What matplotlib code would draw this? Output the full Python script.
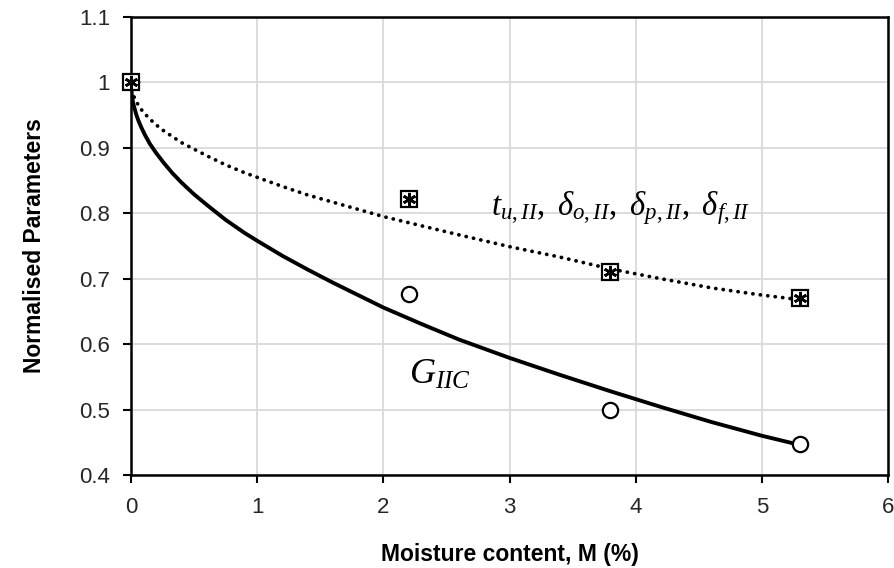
import matplotlib
matplotlib.use("Agg")
import matplotlib.pyplot as plt

# measured data points
moisture = [0, 2.2, 3.8, 5.3]
g_iic = [1.0, 0.677, 0.499, 0.447]
cohesive = [1.0, 0.822, 0.710, 0.671]

# trend lines
trend_x = [0, 0.005, 0.01, 0.02, 0.04, 0.06, 0.08, 0.11, 0.15, 0.2, 0.26, 0.33, 0.4,
           0.5, 0.6, 0.75, 0.9, 1.0, 1.2, 1.4, 1.6, 1.8, 2.0, 2.3, 2.6, 3.0, 3.4,
           3.8, 4.2, 4.6, 5.0, 5.3]
trend_g = [1.0, 0.983, 0.976, 0.966, 0.952, 0.941, 0.932, 0.920, 0.906, 0.892, 0.877,
           0.861, 0.847, 0.829, 0.813, 0.790, 0.770, 0.758, 0.735, 0.714, 0.694, 0.675,
           0.656, 0.631, 0.607, 0.579, 0.553, 0.528, 0.504, 0.481, 0.460, 0.446]
trend_c = [1.0, 0.990, 0.986, 0.980, 0.971, 0.965, 0.959, 0.952, 0.944, 0.935, 0.926,
           0.917, 0.908, 0.898, 0.888, 0.874, 0.862, 0.855, 0.841, 0.828, 0.817, 0.806,
           0.795, 0.781, 0.767, 0.749, 0.733, 0.715, 0.700, 0.686, 0.675, 0.668]

plt.rcParams['font.family'] = ['Liberation Sans', 'DejaVu Sans']
plt.rcParams['mathtext.fontset'] = 'custom'
plt.rcParams['mathtext.rm'] = 'Liberation Serif'
plt.rcParams['mathtext.it'] = 'Liberation Serif:italic'

fig = plt.figure(figsize=(8.95, 5.68), dpi=100)
ax = fig.add_axes([131 / 895, 1 - 475 / 568, (888 - 131) / 895, (475 - 17) / 568])

ax.grid(True, color='#d9d9d9', linewidth=1.3, zorder=0)
ax.set_axisbelow(True)

# trend lines
ax.plot(trend_x, trend_g, color='black', linewidth=2.8, zorder=3,
        solid_capstyle='round', solid_joinstyle='round')
ax.plot(trend_x, trend_c, color='black', linewidth=2.7,
        linestyle=(0, (0.05, 1.95)), dash_capstyle='round', zorder=3)

# markers
ax.plot(moisture, g_iic, linestyle='none', marker='o', markersize=11,
        markerfacecolor='white', markeredgecolor='black', markeredgewidth=1.6,
        zorder=4, clip_on=False)
ax.plot(moisture, cohesive, linestyle='none', marker='s', markersize=11,
        markerfacecolor='white', markeredgecolor='black', markeredgewidth=1.6,
        zorder=5, clip_on=False)
ax.plot(moisture, cohesive, linestyle='none', marker=(6, 2, 0), markersize=9.5,
        color='black', markeredgewidth=1.9, zorder=6, clip_on=False)

# curve labels
ax.text(2.85, 0.797, r'$t_{u,II},\ \delta_{o,II},\ \delta_{p,II},\ \delta_{f,II}$',
        fontsize=23.5, ha='left', va='baseline')
ax.text(2.2, 0.540, r'$G_{IIC}$', fontsize=26, ha='left', va='baseline')

ax.set_xlim(0, 6)
ax.set_ylim(0.4, 1.1)
ax.set_xticks([0, 1, 2, 3, 4, 5, 6])
ax.set_xticklabels(['0', '1', '2', '3', '4', '5', '6'])
ax.set_yticks([0.4, 0.5, 0.6, 0.7, 0.8, 0.9, 1.0, 1.1])
ax.set_yticklabels(['0.4', '0.5', '0.6', '0.7', '0.8', '0.9', '1', '1.1'])
ax.tick_params(direction='out', length=6, width=1.5, labelsize=16,
               labelcolor='#262626')
ax.tick_params(axis='y', pad=9)
ax.tick_params(axis='x', pad=10)

for side in ['left', 'bottom', 'top', 'right']:
    ax.spines[side].set_linewidth(1.8)
    ax.spines[side].set_color('black')

ax.set_xlabel('Moisture content, M (%)', fontsize=16.5, fontweight='bold', labelpad=18)
ax.set_ylabel('Normalised Parameters', fontsize=16.5, fontweight='bold', labelpad=24)

fig.savefig('out.png', dpi=100)
